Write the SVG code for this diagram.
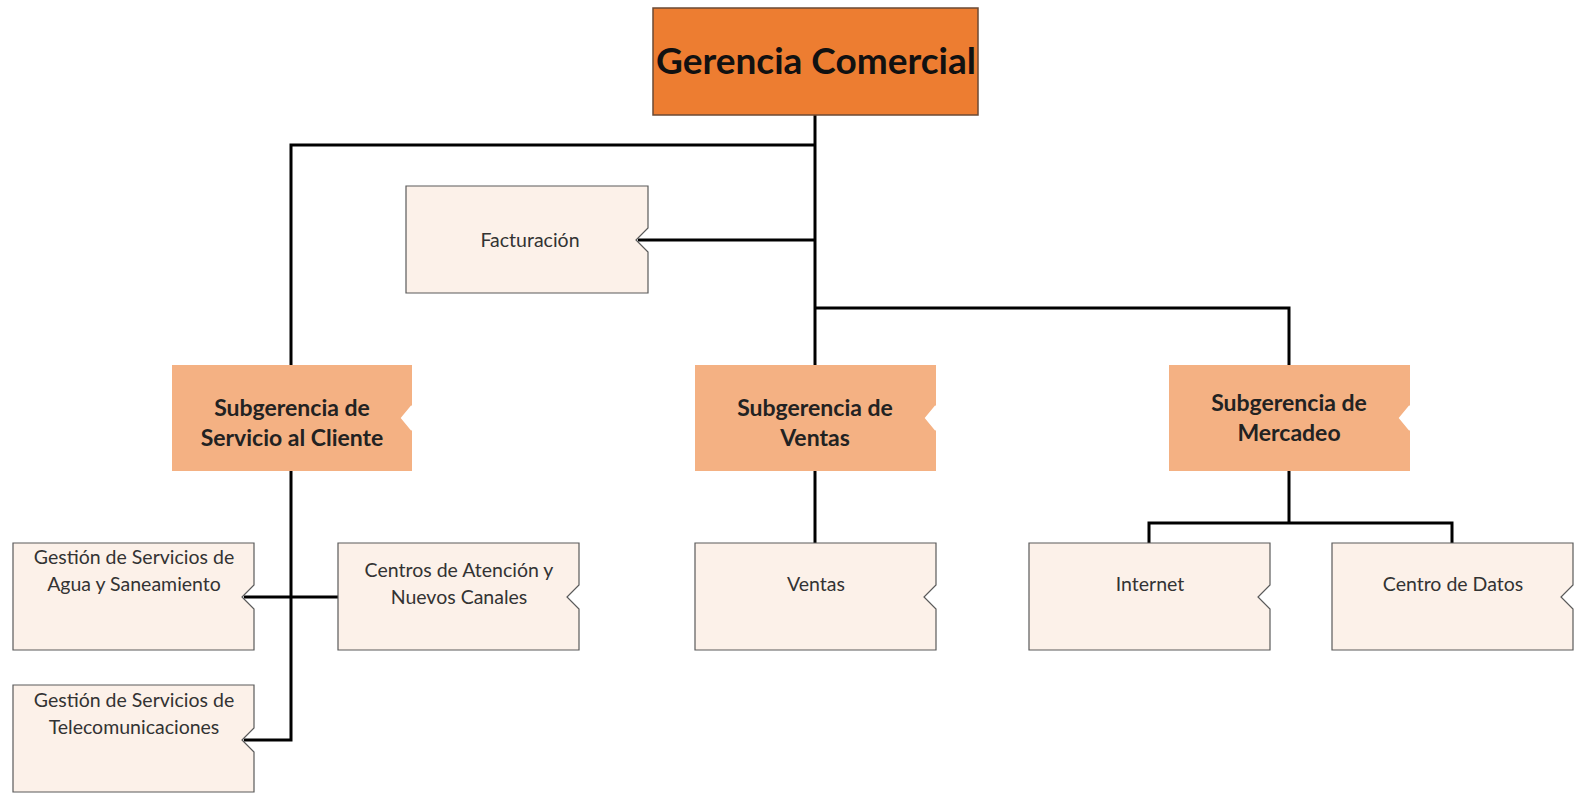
<svg xmlns="http://www.w3.org/2000/svg" width="1591" height="803" viewBox="0 0 1591 803">
<style>
.top{fill:#ED7D31;stroke:#6b4a35;stroke-width:1.5}
.sub{fill:#F4B183;stroke:none}
.leaf{fill:#FCF1E9;stroke:#5a5a5a;stroke-width:1.2}
.conn{fill:none;stroke:#000;stroke-width:3}
.t1{font-family:Lato,"Open Sans",sans-serif;font-weight:bold;font-size:37px;fill:#111}
.t2{font-family:Lato,"Open Sans",sans-serif;font-weight:bold;font-size:23px;fill:#222}
.t3{font-family:Lato,"Open Sans",sans-serif;font-size:19.5px;fill:#333}
</style>
<rect width="1591" height="803" fill="#fff"/>
<g id="connectors">
<path class="conn" d="M815 115 V365"/>
<path class="conn" d="M815 145 H291 V365"/>
<path class="conn" d="M815 240 H638"/>
<path class="conn" d="M815 308 H1289 V365"/>
<path class="conn" d="M291 471 V740 H244"/>
<path class="conn" d="M244 597 H338"/>
<path class="conn" d="M815 471 V543"/>
<path class="conn" d="M1289 471 V523 M1149 543 V523 H1452 V543"/>
</g>
<g id="gerencia">
<rect class="top" x="653" y="8" width="325" height="107"/>
<text class="t1" x="816" y="74" text-anchor="middle">Gerencia Comercial</text>
</g>
<g id="facturacion">
<path class="leaf" d="M406 186 H648 V228 L636 240 L648 252 V293 H406 Z"/>
<text class="t3" x="530" y="247" text-anchor="middle">Facturación</text>
</g>
<g id="sub-servicio">
<path class="sub" d="M172 365 H412 V406 L402 418 L412 430 V471 H172 Z"/>
<path d="M412 406 L402 418 L412 430" fill="none" stroke="#fff" stroke-width="2"/>
<text class="t2" x="292" y="416" text-anchor="middle">Subgerencia de</text>
<text class="t2" x="292" y="446" text-anchor="middle">Servicio al Cliente</text>
</g>
<g id="sub-ventas">
<path class="sub" d="M695 365 H936 V406 L926 418 L936 430 V471 H695 Z"/>
<path d="M936 406 L926 418 L936 430" fill="none" stroke="#fff" stroke-width="2"/>
<text class="t2" x="815" y="416" text-anchor="middle">Subgerencia de</text>
<text class="t2" x="815" y="446" text-anchor="middle">Ventas</text>
</g>
<g id="sub-mercadeo">
<path class="sub" d="M1169 365 H1410 V406 L1400 418 L1410 430 V471 H1169 Z"/>
<path d="M1410 406 L1400 418 L1410 430" fill="none" stroke="#fff" stroke-width="2"/>
<text class="t2" x="1289" y="411" text-anchor="middle">Subgerencia de</text>
<text class="t2" x="1289" y="441" text-anchor="middle">Mercadeo</text>
</g>
<g id="agua">
<path class="leaf" d="M13 543 H254 V585 L242 597 L254 609 V650 H13 Z"/>
<text class="t3" x="134" y="564" text-anchor="middle">Gestión de Servicios de</text>
<text class="t3" x="134" y="591" text-anchor="middle">Agua y Saneamiento</text>
</g>
<g id="telecom">
<path class="leaf" d="M13 685 H254 V728 L242 740 L254 752 V792 H13 Z"/>
<text class="t3" x="134" y="707" text-anchor="middle">Gestión de Servicios de</text>
<text class="t3" x="134" y="734" text-anchor="middle">Telecomunicaciones</text>
</g>
<g id="centros">
<path class="leaf" d="M338 543 H579 V585 L567 597 L579 609 V650 H338 Z"/>
<text class="t3" x="459" y="577" text-anchor="middle">Centros de Atención y</text>
<text class="t3" x="459" y="604" text-anchor="middle">Nuevos Canales</text>
</g>
<g id="ventas">
<path class="leaf" d="M695 543 H936 V585 L924 597 L936 609 V650 H695 Z"/>
<text class="t3" x="816" y="591" text-anchor="middle">Ventas</text>
</g>
<g id="internet">
<path class="leaf" d="M1029 543 H1270 V585 L1258 597 L1270 609 V650 H1029 Z"/>
<text class="t3" x="1150" y="591" text-anchor="middle">Internet</text>
</g>
<g id="centro-datos">
<path class="leaf" d="M1332 543 H1573 V585 L1561 597 L1573 609 V650 H1332 Z"/>
<text class="t3" x="1453" y="591" text-anchor="middle">Centro de Datos</text>
</g>
</svg>
